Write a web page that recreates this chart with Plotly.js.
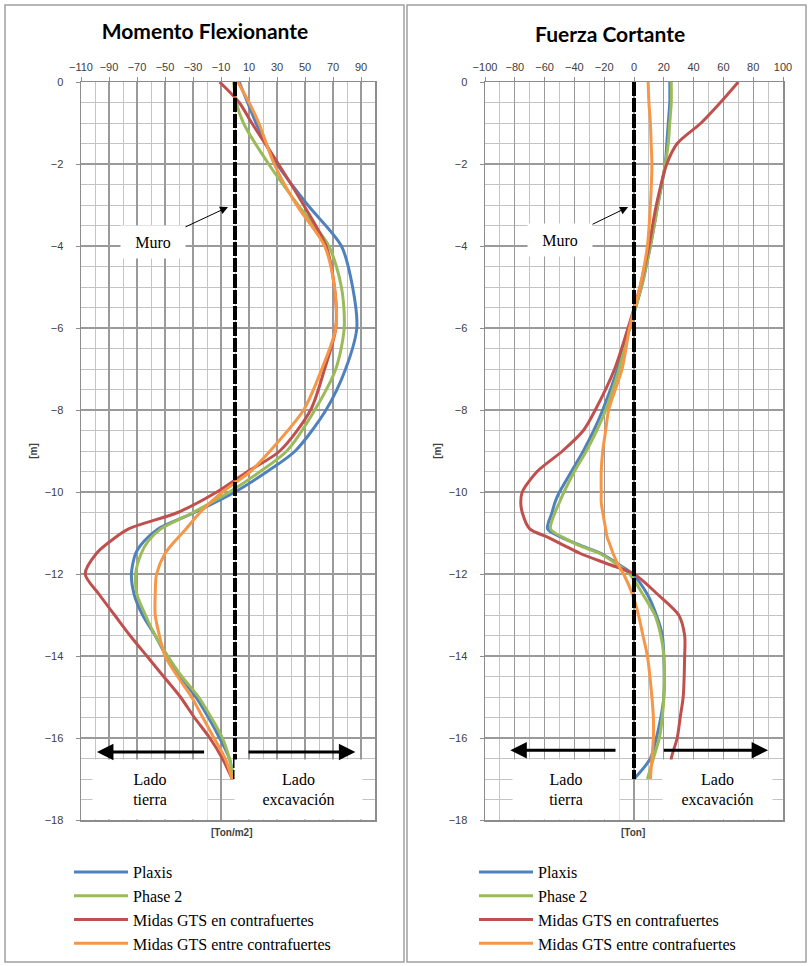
<!DOCTYPE html>
<html>
<head>
<meta charset="utf-8">
<script src="https://cdn.plot.ly/plotly-3.0.1.min.js"></script>
<style>html,body{margin:0;padding:0;background:#fff;}#chart{width:809px;height:966px;}</style>
</head>
<body>
<div id="chart"></div>
<script>
// ---------- DATA ----------
const seriesNames = ["Plaxis", "Phase 2", "Midas GTS en contrafuertes", "Midas GTS entre contrafuertes"];

// Momento Flexionante [Ton/m2] vs depth [m]
const momentDepth = [0, -0.5, -1, -2, -3, -4, -5, -6, -7, -8, -9, -9.5, -10, -10.5, -10.9, -11.2, -11.5, -12, -12.5, -13, -13.5, -14, -14.5, -15, -15.5, -16, -16.5, -17];
const plaxisM     = [3, 9, 15, 30, 52, 76, 84, 87, 79, 65, 43, 23, 0, -29, -55, -65, -71, -74, -72, -66, -57, -49, -39, -28, -19, -11, -4, -1];
const phaseM      = [-1, 1, 6, 24, 45, 67, 76, 78, 72, 57, 37, 18, -4, -30, -53, -62, -67, -71, -70, -64, -57, -48, -38, -26, -17, -9, -4, -1];
const midasEnM    = [-11, 3, 12, 31, 49, 65, 71, 72, 64, 54, 32, 9, -13, -41, -76, -89, -99, -107, -97, -86, -75, -63, -51, -39, -29, -18, -9, -2];
const midasEntreM = [2, 10, 17, 28, 44, 64, 71, 72, 62, 49, 25, 11, -9, -25, -35, -43, -50, -56, -57, -57, -54, -50, -41, -31, -23, -15, -7, -2];

// Fuerza Cortante [Ton] vs depth [m]
const shearDepth  = [0, -0.5, -1, -1.5, -2, -3, -4, -5, -6, -7, -8, -8.5, -9, -9.5, -10, -10.25, -10.5, -10.9, -11.1, -11.3, -11.5, -11.75, -12, -12.5, -13, -13.5, -14, -15, -15.5, -16, -16.5, -17];
const plaxisV     = [24, 24, 23, 22, 21, 16, 11, 5, -3, -11, -21, -27, -34, -42, -50, -53, -55, -58, -49, -36, -22, -11, -1, 9, 15, 19, 20, 20, 18, 15, 11, 0];
const phaseV      = [25, 25, 24, 23, 21, 16, 11, 5, -3, -10, -19, -25, -32, -40, -47, -50, -53, -56, -48, -37, -23, -12, -3, 6, 14, 18, 20, 20, 19, 17, 13, 9];
const midasEnV    = [70, 58, 45, 29, 22, 15, 10, 4, -4, -13, -26, -34, -48, -65, -75, -76, -75, -70, -58, -47, -36, -18, 0, 16, 30, 34, 34, 33, 31, 29, 25, 24];
const midasEntreV = [9.5, 10, 11, 11.5, 12, 11, 9, 4, -3, -8, -17, -19, -21, -22, -22, -22, -21, -19, -18, -16, -14, -11, -7, -1, 3, 6, 9, 12, 13, 13, 12, 11];

// Wall (muro)
const wallX = [0, 0];
const wallDepth = [0, -17];

// Tick labels
const momentTicks = [-110, -90, -70, -50, -30, -10, 10, 30, 50, 70, 90];
const shearTicks  = [-100, -80, -60, -40, -20, 0, 20, 40, 60, 80, 100];
const depthTicks  = [0, -2, -4, -6, -8, -10, -12, -14, -16, -18];

// ---------- STYLE ----------
const W = 809, H = 966;
const colors = ["#4F81BD", "#9BBB59", "#C0504D", "#F79646"];
const serif = "Liberation Serif, Times New Roman, serif";
const sans = "Liberation Sans, Arial, sans-serif";

function mk(xs, ys, i, xa, ya, leg) {
  return {
    x: xs, y: ys, type: "scatter", mode: "lines", name: seriesNames[i],
    xaxis: xa, yaxis: ya, legend: leg,
    line: {color: colors[i], width: 3, shape: "spline", smoothing: 0.8}
  };
}

const traces = [
  mk(plaxisM, momentDepth, 0, "x", "y", "legend"),
  mk(phaseM, momentDepth, 1, "x", "y", "legend"),
  mk(midasEnM, momentDepth, 2, "x", "y", "legend"),
  mk(midasEntreM, momentDepth, 3, "x", "y", "legend"),
  mk(plaxisV, shearDepth, 0, "x2", "y2", "legend2"),
  mk(phaseV, shearDepth, 1, "x2", "y2", "legend2"),
  mk(midasEnV, shearDepth, 2, "x2", "y2", "legend2"),
  mk(midasEntreV, shearDepth, 3, "x2", "y2", "legend2"),
  {x: wallX, y: wallDepth, xaxis: "x", yaxis: "y", mode: "lines", showlegend: false, hoverinfo: "skip",
   line: {color: "#000", width: 4, dash: "14px,2px"}},
  {x: wallX, y: wallDepth, xaxis: "x2", yaxis: "y2", mode: "lines", showlegend: false, hoverinfo: "skip",
   line: {color: "#000", width: 4, dash: "14px,2px"}}
];

const yDom = [1 - 820 / H, 1 - 82 / H];
const gridMajor = "#9a9a9a", gridMinor = "#c4c4c4";

function xAxis(dom, rng, ticks, anchor) {
  return {
    domain: dom, range: rng, side: "top", anchor: anchor,
    tickmode: "array", tickvals: ticks,
    showgrid: true, gridcolor: gridMajor, gridwidth: 1.2,
    minor: {tickmode: "linear", tick0: rng[0], dtick: 10, showgrid: true, gridcolor: gridMinor, gridwidth: 1},
    showline: true, mirror: true, linecolor: "#8c8c8c", linewidth: 1.5,
    zeroline: false, ticks: "outside", ticklen: 4, tickcolor: "#8c8c8c",
    ticklabelstandoff: 1,
    tickfont: {family: sans, size: 11, color: "#404040"}, fixedrange: true
  };
}
function yAxis(anchor) {
  return {
    domain: yDom, range: [-18, 0], anchor: anchor,
    tickmode: "array", tickvals: depthTicks,
    showgrid: true, gridcolor: gridMajor, gridwidth: 1.2,
    minor: {tickmode: "linear", tick0: 0, dtick: 0.5, showgrid: true, gridcolor: gridMinor, gridwidth: 1},
    showline: true, mirror: true, linecolor: "#8c8c8c", linewidth: 1.5,
    zeroline: false, ticks: "outside", ticklen: 4, tickcolor: "#8c8c8c",
    ticklabelstandoff: 10,
    tickfont: {family: sans, size: 11, color: "#404040"},
    title: {text: "<b>[m]</b>", font: {family: sans, size: 10, color: "#404040"}, standoff: 5},
    fixedrange: true
  };
}

function textBox(xa, ya, x, y, text, w, h) {
  return {xref: xa, yref: ya, x: x, y: y, text: text, showarrow: false, bgcolor: "#ffffff",
          width: w, height: h, font: {family: serif, size: 16, color: "#000"}, align: "center", valign: "middle"};
}
function arrowAnn(xa, ya, x0, x1, y) {
  return {xref: xa, yref: ya, axref: xa, ayref: ya, x: x1, y: y, ax: x0, ay: y, text: "",
          showarrow: true, arrowhead: 2, arrowsize: 1.1, arrowwidth: 3, arrowcolor: "#000", standoff: 0, startstandoff: 0};
}

const annotations = [
  // panel 2 title
  {xref: "paper", yref: "paper", x: 610 / W, y: 1 - 33 / H, xanchor: "center", yanchor: "middle", showarrow: false,
   text: "<b>Fuerza Cortante</b>", font: {family: "Lato, sans-serif", size: 21, color: "#000"}},
  // Muro labels
  {xref: "x", yref: "y", x: -5, y: -3.05, ax: -75, ay: 35, text: "Muro", showarrow: true, arrowhead: 2, arrowsize: 1.6,
   arrowwidth: 1, arrowcolor: "#000", bgcolor: "#fff", width: 62, height: 30, font: {family: serif, size: 16, color: "#000"}},
  {xref: "x2", yref: "y2", x: -4, y: -3.05, ax: -68, ay: 33, text: "Muro", showarrow: true, arrowhead: 2, arrowsize: 1.6,
   arrowwidth: 1, arrowcolor: "#000", bgcolor: "#fff", width: 62, height: 30, font: {family: serif, size: 16, color: "#000"}},
  // Lado boxes (left panel)
  textBox("x", "y", -60.5, -17.26, "Lado<br>tierra", 112, 57),
  textBox("x", "y", 45, -17.26, "Lado<br>excavación", 125, 57),
  // Lado boxes (right panel)
  textBox("x2", "y2", -45.6, -17.26, "Lado<br>tierra", 104, 57),
  textBox("x2", "y2", 56, -17.26, "Lado<br>excavación", 107, 57),
  // double arrows
  arrowAnn("x", "y", -21, -98.6, -16.34),
  arrowAnn("x", "y", 8.6, 86, -16.34),
  arrowAnn("x2", "y2", -11.4, -83, -16.3),
  arrowAnn("x2", "y2", 19, 90, -16.3),
  // bottom unit labels
  {xref: "paper", yref: "paper", x: 231 / W, y: 1 - 832 / H, xanchor: "center", yanchor: "middle", showarrow: false,
   text: "<b>[Ton/m2]</b>", font: {family: sans, size: 10, color: "#404040"}},
  {xref: "paper", yref: "paper", x: 633 / W, y: 1 - 832 / H, xanchor: "center", yanchor: "middle", showarrow: false,
   text: "<b>[Ton]</b>", font: {family: sans, size: 10, color: "#404040"}}
];

const shapes = [
  {type: "rect", xref: "paper", yref: "paper", x0: 5 / W, x1: 404 / W, y0: 1 - 962 / H, y1: 1 - 5 / H,
   line: {color: "#a0a0a0", width: 1.5}, layer: "below"},
  {type: "rect", xref: "paper", yref: "paper", x0: 407 / W, x1: 806 / W, y0: 1 - 962 / H, y1: 1 - 5 / H,
   line: {color: "#a0a0a0", width: 1.5}, layer: "below"}
];

const legendStyle = {font: {family: serif, size: 16, color: "#000"}, bgcolor: "rgba(0,0,0,0)",
                     itemwidth: 54, tracegroupgap: 0, yanchor: "top", xanchor: "left"};

const layout = {
  width: W, height: H, margin: {l: 0, r: 0, t: 0, b: 0},
  paper_bgcolor: "#fff", plot_bgcolor: "#fff",
  title: {text: "<b>Momento Flexionante</b>", x: 205 / W, y: 1 - 32 / H, xanchor: "center", yanchor: "middle",
          font: {family: "Lato, sans-serif", size: 21, color: "#000"}},
  xaxis: xAxis([81 / W, 375 / W], [-110, 100], momentTicks, "y"),
  yaxis: yAxis("x"),
  xaxis2: xAxis([485 / W, 783 / W], [-100, 100], shearTicks, "y2"),
  yaxis2: yAxis("x2"),
  legend: Object.assign({}, legendStyle, {x: 69 / W, y: 1 - 855 / H}),
  legend2: Object.assign({}, legendStyle, {x: 474 / W, y: 1 - 855 / H}),
  annotations: annotations,
  shapes: shapes,
  showlegend: true
};

Plotly.newPlot("chart", traces, layout, {displayModeBar: false, staticPlot: true});
</script>
</body>
</html>
